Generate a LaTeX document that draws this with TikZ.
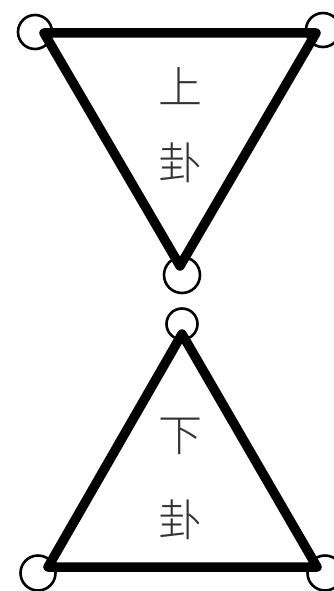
\documentclass[tikz,border=0pt]{standalone}
\usepackage{fontspec}
\newfontfamily\cjk{Noto Sans CJK SC Light}
\begin{document}
\begin{tikzpicture}[x=1pt,y=-1pt,
  ring/.style={circle,draw=black,line width=2.6pt,minimum size=34pt,inner sep=0pt},
  edge/.style={line width=9.5pt,line cap=round,line join=round},
  label/.style={font=\cjk\fontsize{44}{44}\selectfont,text=black!80}]
\useasboundingbox (0,0) rectangle (334,591);
% circles
\node[ring] (c1) at (35,32) {};
\node[ring] (c2) at (323,30) {};
\node[ring,minimum size=36pt] (c3) at (182,275) {};
\node[ring,minimum size=31pt] (c4) at (182,324) {};
\node[ring,minimum size=35pt] (c5) at (38,573) {};
\node[ring,minimum size=35pt] (c6) at (325,573) {};
% vertices
\coordinate (a) at (44,33);
\coordinate (b) at (316,33);
\coordinate (c) at (180,266);
\coordinate (d) at (182,334);
\coordinate (e) at (48,567);
\coordinate (f) at (317,567);
\draw[edge] (a) -- (b) -- (c) -- cycle;
\draw[edge] (d) -- (e) -- (f) -- cycle;
% texts
\node[label] (t1) at (180,86) {上};
\node[label] (t2) at (180,163) {卦};
\node[label] (t3) at (180,436) {下};
\node[label] (t4) at (180,520) {卦};
\end{tikzpicture}
\end{document}
